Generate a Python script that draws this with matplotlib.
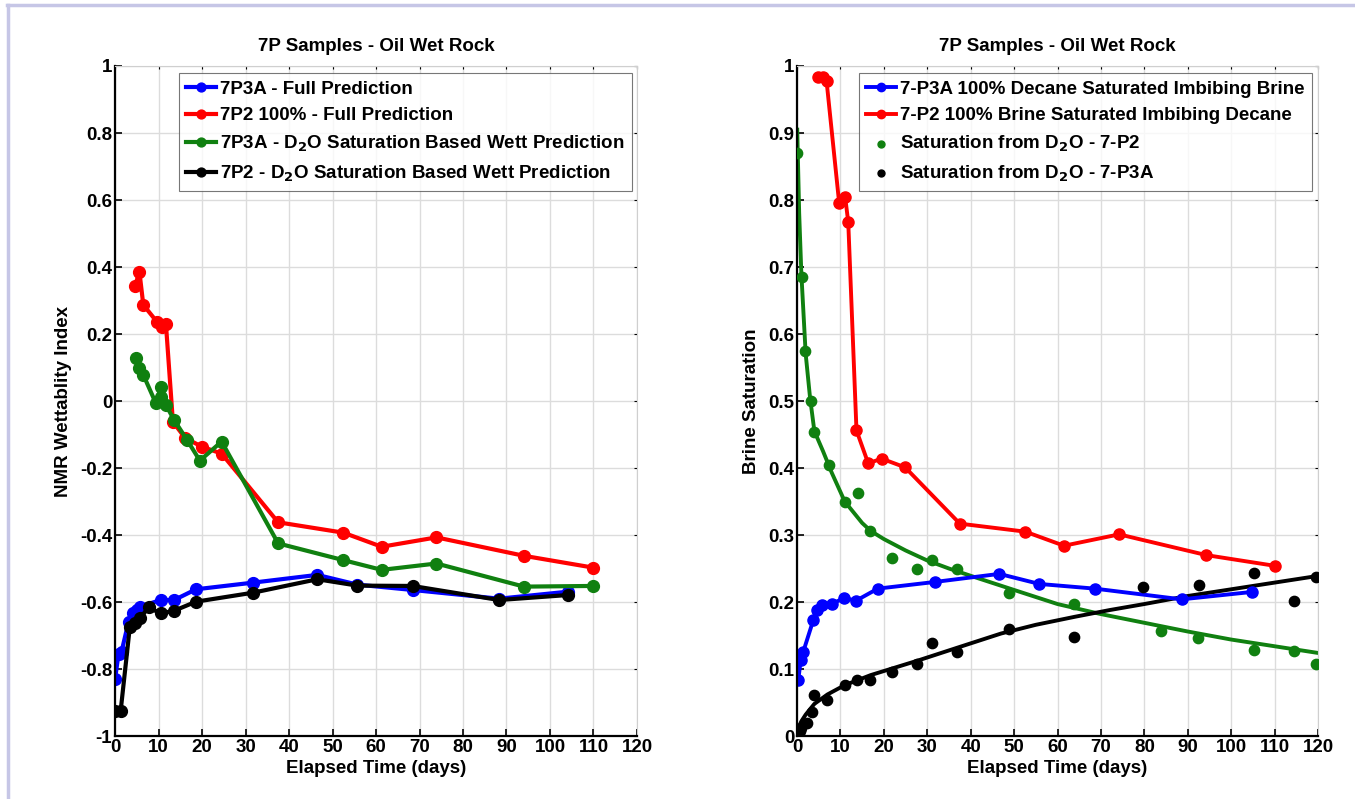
import matplotlib
matplotlib.use("Agg")
import matplotlib.pyplot as plt
from matplotlib.lines import Line2D

plt.rcParams['font.family'] = ['Liberation Sans', 'DejaVu Sans']
plt.rcParams['font.weight'] = 'bold'
plt.rcParams['mathtext.default'] = 'bf'

# ---------------- Left panel data ----------------
l_blue_x = [0, 0.8, 1.5, 3.1, 4.1, 5.0, 5.7, 10.5, 13.6, 18.6, 31.8, 46.5, 55.7, 68.4, 88.3, 104.2]
l_blue_y = [-0.830, -0.755, -0.748, -0.659, -0.634, -0.624, -0.614, -0.594, -0.594, -0.562,
            -0.542, -0.519, -0.548, -0.564, -0.590, -0.569]

l_red_x = [4.6, 5.6, 6.5, 9.6, 10.7, 11.7, 13.3, 16.1, 19.9, 24.5, 37.5, 52.5, 61.3, 73.9, 94.0, 109.8]
l_red_y = [0.343, 0.386, 0.287, 0.237, 0.222, 0.230, -0.062, -0.11, -0.136, -0.157,
           -0.362, -0.393, -0.435, -0.407, -0.462, -0.497]

l_green_x = [4.8, 5.4, 6.5, 9.4, 10.6, 10.6, 11.7, 13.6, 16.5, 19.5, 24.5, 37.5, 52.5, 61.3, 73.9, 94.0, 109.8]
l_green_y = [0.127, 0.098, 0.078, -0.007, 0.041, 0.013, -0.012, -0.057, -0.115, -0.178,
             -0.121, -0.425, -0.475, -0.504, -0.485, -0.554, -0.552]

l_black_x = [0, 1.3, 3.4, 4.6, 5.7, 7.7, 10.5, 13.6, 18.6, 31.8, 46.5, 55.7, 68.4, 88.3, 104.2]
l_black_y = [-0.924, -0.924, -0.674, -0.664, -0.649, -0.616, -0.634, -0.626, -0.599,
             -0.572, -0.532, -0.551, -0.552, -0.594, -0.579]

left_labels = ["7P3A - Full Prediction",
               "7P2 100% - Full Prediction",
               "7P3A - D$_2$O Saturation Based Wett Prediction",
               "7P2 - D$_2$O Saturation Based Wett Prediction"]

# ---------------- Right panel data ----------------
r_blue_x = [0.3, 0.85, 1.45, 3.75, 4.5, 5.7, 8.0, 10.8, 13.6, 18.6, 31.8, 46.6, 55.8, 68.6, 88.6, 104.7]
r_blue_y = [0.084, 0.113, 0.126, 0.173, 0.188, 0.196, 0.197, 0.206, 0.202, 0.220,
            0.230, 0.242, 0.227, 0.220, 0.204, 0.215]

r_red_x = [4.9, 5.9, 6.8, 9.7, 11.1, 11.8, 13.7, 16.4, 19.5, 24.9, 37.5, 52.6, 61.5, 74.2, 94.3, 110.1]
r_red_y = [0.984, 0.983, 0.978, 0.796, 0.804, 0.767, 0.456, 0.407, 0.414, 0.401,
           0.317, 0.305, 0.284, 0.301, 0.270, 0.254]

r_green_pts_x = [0.1, 1.1, 1.8, 3.2, 3.8, 7.3, 11.1, 14.1, 16.7, 21.8, 27.7, 31.0, 36.8,
                 48.9, 63.7, 83.8, 92.4, 105.3, 114.5, 119.5]
r_green_pts_y = [0.870, 0.685, 0.575, 0.500, 0.454, 0.404, 0.350, 0.362, 0.306, 0.265,
                 0.250, 0.262, 0.250, 0.214, 0.197, 0.157, 0.147, 0.129, 0.127, 0.108]

r_black_pts_x = [0.3, 0.6, 1.0, 2.2, 3.4, 3.8, 6.8, 11.1, 13.9, 16.7, 21.8, 27.7, 31.0,
                 36.8, 48.8, 63.8, 79.6, 92.6, 105.3, 114.5, 119.5]
r_black_pts_y = [0.004, 0.008, 0.012, 0.019, 0.036, 0.061, 0.054, 0.076, 0.084, 0.084,
                 0.095, 0.107, 0.139, 0.126, 0.160, 0.148, 0.223, 0.225, 0.244, 0.202, 0.238]

# fitted trend curves
r_green_fit_x = [0.05, 0.5, 1, 2, 3, 4, 6, 8, 11, 15, 17, 20, 25, 30, 35, 41, 50, 60, 70, 80, 90, 100, 110, 120]
r_green_fit_y = [0.905, 0.78, 0.69, 0.57, 0.505, 0.455, 0.425, 0.393, 0.350, 0.318, 0.306, 0.294,
                 0.277, 0.262, 0.250, 0.237, 0.218, 0.197, 0.182, 0.169, 0.156, 0.144, 0.134, 0.124]

r_black_fit_x = [0, 0.5, 1, 2, 4, 7, 11, 17, 22, 28, 37, 47, 55, 64, 72, 80, 90, 100, 110, 120]
r_black_fit_y = [0.0, 0.015, 0.022, 0.032, 0.048, 0.062, 0.076, 0.091, 0.101, 0.113, 0.132, 0.153,
                 0.166, 0.178, 0.188, 0.197, 0.209, 0.219, 0.229, 0.239]

right_labels = ["7-P3A 100% Decane Saturated Imbibing Brine",
                "7-P2 100% Brine Saturated Imbibing Decane",
                "Saturation from D$_2$O - 7-P2",
                "Saturation from D$_2$O - 7-P3A"]

title = "7P Samples - Oil Wet Rock"
xlabel = "Elapsed Time (days)"

BLUE, RED, BLACK = "#0000ff", "#ff0000", "#000000"
GREEN = "#108010"

fig = plt.figure(figsize=(13.55, 7.99), dpi=100)
fig.patch.set_facecolor("white")

# page-like lavender border lines
fig.add_artist(Line2D([0.005, 1.0], [0.994, 0.994], color="#c6c6e6", lw=2.5, transform=fig.transFigure))
fig.add_artist(Line2D([0.006, 0.006], [0.0, 0.994], color="#c6c6e6", lw=2.5, transform=fig.transFigure))

axL = fig.add_axes([0.0849, 0.0788, 0.3852, 0.8386])
axR = fig.add_axes([0.5882, 0.0788, 0.3845, 0.8386])

FS = 13.5


def style(ax, yticks, ylabels):
    ax.set_xlim(0, 120)
    ax.set_xticks(range(0, 121, 10))
    ax.set_yticks(yticks)
    ax.set_yticklabels(ylabels)
    ax.grid(True, color="#dcdcdc", lw=1.0)
    ax.set_axisbelow(True)
    for s in ("top", "right"):
        ax.spines[s].set_color("#cfcfcf")
        ax.spines[s].set_linewidth(0.8)
    for s in ("left", "bottom"):
        ax.spines[s].set_color("black")
        ax.spines[s].set_linewidth(1.6)
    ax.tick_params(direction="in", length=5, width=1.2, labelsize=FS, top=True, right=True, pad=2)
    for t in ax.xaxis.get_major_ticks() + ax.yaxis.get_major_ticks():
        t.tick2line.set_color("#999999")
        t.tick2line.set_markersize(2.5)
        t.tick2line.set_markeredgewidth(0.8)
    for lab in ax.get_xticklabels() + ax.get_yticklabels():
        lab.set_fontweight("bold")
    ax.set_title(title, fontsize=FS, fontweight="bold", pad=11)
    ax.set_xlabel(xlabel, fontsize=FS, fontweight="bold", labelpad=3)


# ----- left panel -----
lw, ms = 3.0, 8.5
axL.plot(l_blue_x, l_blue_y, "-o", color=BLUE, lw=lw, ms=ms, label=left_labels[0])
axL.plot(l_red_x, l_red_y, "-o", color=RED, lw=lw, ms=ms, label=left_labels[1])
axL.plot(l_green_x, l_green_y, "-o", color=GREEN, lw=lw, ms=ms, label=left_labels[2])
axL.plot(l_black_x, l_black_y, "-o", color=BLACK, lw=lw, ms=ms, label=left_labels[3])
axL.set_ylim(-1, 1)
yt = [-1, -0.8, -0.6, -0.4, -0.2, 0, 0.2, 0.4, 0.6, 0.8, 1]
style(axL, yt, ["-1", "-0.8", "-0.6", "-0.4", "-0.2", "0", "0.2", "0.4", "0.6", "0.8", "1"])
axL.set_ylabel("NMR Wettablity Index", fontsize=FS, fontweight="bold", labelpad=6)
legL = axL.legend(loc="upper right", bbox_to_anchor=(0.99, 0.9895), borderaxespad=0, fontsize=FS,
                  frameon=True, fancybox=False, edgecolor="#555555", handlelength=1.6,
                  handletextpad=0.2, borderpad=0.4, labelspacing=0.5, markerscale=0.75)
legL.get_frame().set_linewidth(0.8)
for t in legL.get_texts():
    t.set_fontweight("bold")

# ----- right panel -----
lw2, ms2 = 2.8, 8
axR.plot(r_green_fit_x, r_green_fit_y, "-", color=GREEN, lw=lw2)
axR.plot(r_black_fit_x, r_black_fit_y, "-", color=BLACK, lw=lw2)
axR.plot(r_blue_x, r_blue_y, "-o", color=BLUE, lw=lw2, ms=ms2, label=right_labels[0])
axR.plot(r_red_x, r_red_y, "-o", color=RED, lw=lw2, ms=ms2, label=right_labels[1])
axR.scatter(r_green_pts_x, r_green_pts_y, s=55, color=GREEN, zorder=3, label=right_labels[2])
axR.scatter(r_black_pts_x, r_black_pts_y, s=55, color=BLACK, zorder=3, label=right_labels[3])
axR.set_ylim(0, 1)
ytr = [i / 10 for i in range(11)]
style(axR, ytr, ["0", "0.1", "0.2", "0.3", "0.4", "0.5", "0.6", "0.7", "0.8", "0.9", "1"])
axR.set_ylabel("Brine Saturation", fontsize=FS, fontweight="bold", labelpad=6)
legR = axR.legend(loc="upper right", bbox_to_anchor=(0.9885, 0.9895), borderaxespad=0, fontsize=FS,
                  frameon=True, fancybox=False, edgecolor="#555555", handlelength=1.6,
                  handletextpad=0.2, borderpad=0.4, labelspacing=0.5, markerscale=0.75,
                  scatterpoints=1)
legR.get_frame().set_linewidth(0.8)
for t in legR.get_texts():
    t.set_fontweight("bold")
for h in legR.legend_handles[2:]:
    h.set_sizes([25])

fig.savefig("out.png", dpi=100, facecolor="white")
